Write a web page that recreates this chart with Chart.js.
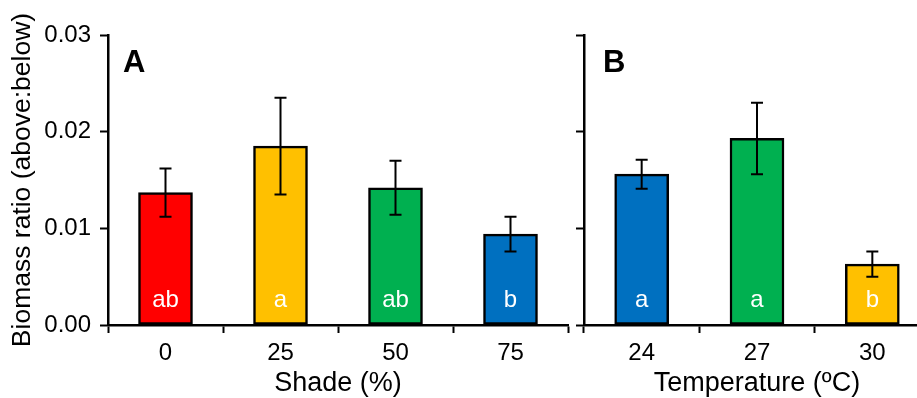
<!DOCTYPE html>
<html>
<head>
<meta charset="utf-8">
<script src="https://cdn.jsdelivr.net/npm/chart.js@4"></script>
<style>
  html, body { margin: 0; padding: 0; background: #fff; overflow: hidden; width: 917px; height: 398px; }
  canvas { position: absolute; top: 0; }
  #chartA { left: 0; }
  #chartB { left: 560px; }
</style>
</head>
<body>
<canvas id="chartA" width="572" height="398"></canvas>
<canvas id="chartB" width="371" height="398"></canvas>
<script>
const shadeLabels = ["0", "25", "50", "75"];
const shadeMeans = [0.0137, 0.0185, 0.0142, 0.0094];
const shadeErrors = [0.0025, 0.005, 0.0028, 0.0018];
const shadeLetters = ["ab", "a", "ab", "b"];
const shadeColors = ["#ff0000", "#ffc000", "#00b050", "#0070c0"];

const tempLabels = ["24", "27", "30"];
const tempMeans = [0.0156, 0.0193, 0.0063];
const tempErrors = [0.0015, 0.0037, 0.0013];
const tempLetters = ["a", "a", "b"];
const tempColors = ["#0070c0", "#00b050", "#ffc000"];

const yMin = 0;
const yMax = 0.03;
const yStep = 0.01;

const FONT = "'Liberation Sans', Arial, sans-serif";

// error bars, letters inside bars and the panel letter
const barExtras = {
  id: "barExtras",
  afterDatasetsDraw(chart, args, opts) {
    const { ctx } = chart;
    const y = chart.scales.y;
    const meta = chart.getDatasetMeta(0);
    ctx.save();
    ctx.strokeStyle = "#000";
    ctx.lineWidth = 2;
    meta.data.forEach((bar, i) => {
      const hi = y.getPixelForValue(opts.means[i] + opts.errors[i]);
      const lo = y.getPixelForValue(opts.means[i] - opts.errors[i]);
      ctx.beginPath();
      ctx.moveTo(bar.x, hi);
      ctx.lineTo(bar.x, lo);
      ctx.moveTo(bar.x - 6, hi);
      ctx.lineTo(bar.x + 6, hi);
      ctx.moveTo(bar.x - 6, lo);
      ctx.lineTo(bar.x + 6, lo);
      ctx.stroke();

      ctx.fillStyle = "#fff";
      ctx.font = `24px ${FONT}`;
      ctx.textAlign = "center";
      ctx.textBaseline = "alphabetic";
      ctx.fillText(opts.letters[i], bar.x, y.getPixelForValue(0) - 18);
    });
    ctx.fillStyle = "#000";
    ctx.font = `bold 31px ${FONT}`;
    ctx.textAlign = "left";
    ctx.fillText(opts.panel, chart.chartArea.left + opts.panelDx, 72);
    ctx.restore();
  },
};

function makeChart(canvasId, labels, means, errors, letters, colors, cfg) {
  return new Chart(document.getElementById(canvasId), {
    type: "bar",
    data: {
      labels: labels,
      datasets: [
        {
          data: means,
          backgroundColor: colors,
          borderColor: "#000",
          borderWidth: 2.5,
          borderSkipped: false,
          barThickness: 54,
        },
      ],
    },
    plugins: [barExtras],
    options: {
      responsive: false,
      animation: false,
      layout: { padding: { top: 35, left: 0, right: cfg.padRight, bottom: 0 } },
      plugins: {
        legend: { display: false },
        tooltip: { enabled: false },
        barExtras: {
          means: means,
          errors: errors,
          letters: letters,
          panel: cfg.panel,
          panelDx: cfg.panelDx,
        },
      },
      scales: {
        x: {
          offset: true,
          afterFit: (s) => { s.height = 73; },
          border: { display: true, color: "#000", width: 2.5 },
          grid: {
            offset: true,
            drawOnChartArea: false,
            drawTicks: true,
            tickLength: 8,
            tickColor: "#000",
            tickWidth: 2,
            color: "#000",
          },
          ticks: { color: "#000", padding: 6, font: { family: FONT, size: 24 } },
          title: {
            display: true,
            text: cfg.xTitle,
            color: "#000",
            padding: { top: 0, bottom: 1 },
            font: { family: FONT, size: 27, lineHeight: 1 },
          },
        },
        y: {
          min: yMin,
          max: yMax,
          afterFit: (s) => { s.width = cfg.yWidth; },
          border: { display: true, color: "#000", width: 2.5 },
          grid: {
            drawOnChartArea: false,
            drawTicks: true,
            tickLength: 8,
            tickColor: "#000",
            tickWidth: 2,
            color: "#000",
          },
          ticks: {
            display: cfg.yLabels,
            stepSize: yStep,
            color: "#000",
            padding: 9,
            font: { family: FONT, size: 24 },
            callback: (v) => v.toFixed(2),
          },
          title: {
            display: cfg.yLabels,
            text: "Biomass ratio (above:below)",
            color: "#000",
            padding: { top: 7, bottom: 0 },
            font: { family: FONT, size: 26.5 },
          },
        },
      },
    },
  });
}

makeChart("chartA", shadeLabels, shadeMeans, shadeErrors, shadeLetters, shadeColors, {
  panel: "A", panelDx: 15, xTitle: "Shade (%)", yWidth: 108, yLabels: true, padRight: 4,
});
makeChart("chartB", tempLabels, tempMeans, tempErrors, tempLetters, tempColors, {
  panel: "B", panelDx: 19, xTitle: "Temperature (ºC)", yWidth: 24, yLabels: false, padRight: 1,
});
</script>
</body>
</html>
